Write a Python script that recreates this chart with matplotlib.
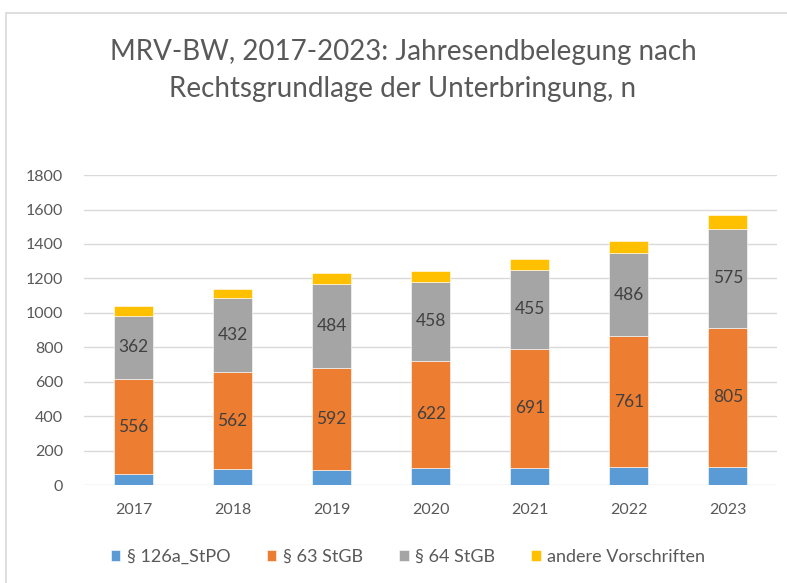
import numpy as np
import matplotlib.pyplot as plt
from matplotlib.patches import Rectangle

# Daten
jahre = ['2017', '2018', '2019', '2020', '2021', '2022', '2023']
stpo_126a = [62, 92, 89, 100, 101, 102, 107]
stgb_63 = [556, 562, 592, 622, 691, 761, 805]
stgb_64 = [362, 432, 484, 458, 455, 486, 575]
andere = [62, 55, 68, 65, 66, 70, 84]

serien = ['§ 126a_StPO', '§ 63 StGB', '§ 64 StGB', 'andere Vorschriften']
farben = ['#5B9BD5', '#ED7D31', '#A5A5A5', '#FFC000']

plt.rcParams['font.family'] = ['Lato', 'DejaVu Sans']

fig = plt.figure(figsize=(7.87, 5.83), dpi=100)
ax = fig.add_axes([0.1067, 0.168, 0.881, 0.5317])

# Rahmen des Diagrammbereichs
fig.patches.append(Rectangle((6 / 787, -0.1), 1.2, 1 - 13 / 583 + 0.1,
                             transform=fig.transFigure, fill=False,
                             edgecolor='#D9D9D9', linewidth=1.2))

x = np.arange(len(jahre))
breite = 0.39
unten = np.zeros(len(jahre))
daten = [stpo_126a, stgb_63, stgb_64, andere]
for i, (werte, farbe, name) in enumerate(zip(daten, farben, serien)):
    ax.bar(x, werte, breite, bottom=unten, color=farbe, label=name,
           edgecolor='white', linewidth=0.4, zorder=3)
    if i in (1, 2):
        for xi, b, w in zip(x, unten, werte):
            ax.text(xi, b + w / 2, str(w), ha='center', va='center',
                    fontsize=12.5, color='#404040', zorder=4)
    unten = unten + np.array(werte)

ax.set_xlim(-0.5, len(jahre) - 0.5)
ax.set_ylim(0, 1800)
ax.set_yticks(range(0, 1801, 200))
ax.set_xticks(x)
ax.set_xticklabels(jahre)
ax.tick_params(axis='both', length=0, labelsize=11.5, labelcolor='#595959')
ax.tick_params(axis='y', pad=15)
ax.tick_params(axis='x', pad=13)
ax.grid(axis='y', color='#D9D9D9', linewidth=1, zorder=0)
for s in ax.spines.values():
    s.set_visible(False)

# Titel
fig.text(403 / 787, 1 - 60 / 583, 'MRV-BW, 2017-2023: Jahresendbelegung nach',
         ha='center', va='baseline', fontsize=20, color='#595959')
fig.text(403 / 787, 1 - 97 / 583, 'Rechtsgrundlage der Unterbringung, n',
         ha='center', va='baseline', fontsize=20, color='#595959')

fig.legend(loc='center', bbox_to_anchor=(408 / 787, 1 - 557 / 583), ncol=4,
           frameon=False, fontsize=13, labelcolor='#595959',
           handlelength=0.55, handleheight=0.55, handletextpad=0.35,
           columnspacing=2.0)

fig.savefig('out.png', dpi=100)
